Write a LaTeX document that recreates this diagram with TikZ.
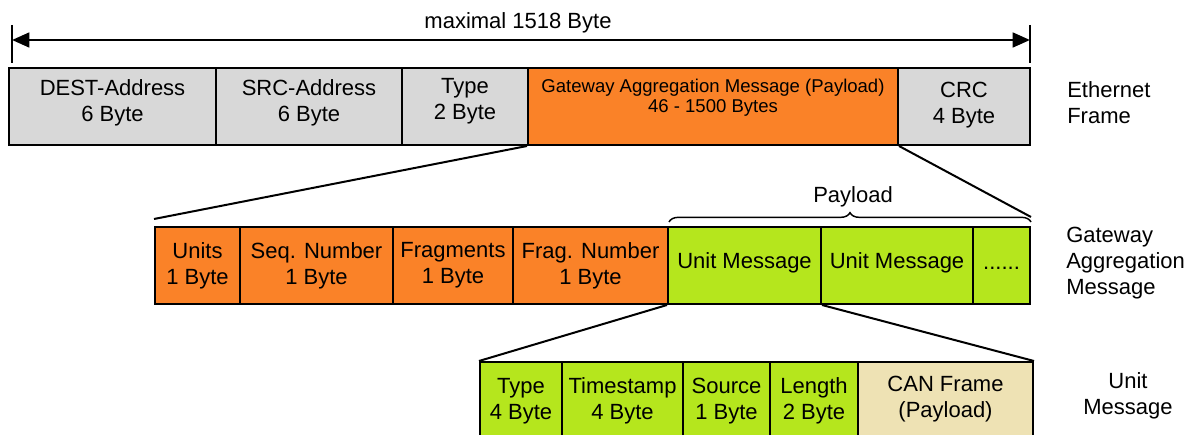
\documentclass[tikz,border=0pt]{standalone}
\usepackage{fontspec}
\setmainfont{Liberation Sans}
\usetikzlibrary{arrows.meta,calc,decorations.pathreplacing}
\definecolor{cgray}{RGB}{216,216,216}
\definecolor{corange}{RGB}{250,130,40}
\definecolor{cgreen}{RGB}{181,230,29}
\definecolor{cbeige}{RGB}{238,226,180}
% name, cx, cy, w, h, fill, dy, text
\newcommand\mycell[8]{%
  \node[cell,fill=#6,minimum width=#4*0.75pt,minimum height=#5*0.75pt] (#1) at (#2,#3) {};
  \node[txt] (#1t) at ($(#1.center)+(0,#7)$) {#8};}
\begin{document}
\begin{tikzpicture}[x=0.75pt,y=-0.75pt,
  cell/.style={draw,line width=1.5pt,inner sep=0pt},
  txt/.style={align=center,inner sep=0pt,font=\fontsize{16.5}{19.5}\selectfont},
  smalltxt/.style={align=center,inner sep=0pt,font=\fontsize{13.9}{15}\selectfont},
  conn/.style={line width=1.5pt},
  tick/.style={line width=1.5pt},
  dim/.style={line width=2pt,{Triangle[length=13pt,width=11pt]}-{Triangle[length=13pt,width=11pt]}},
  side/.style={inner sep=0pt,font=\fontsize{16.5}{19.5}\selectfont}]
\useasboundingbox (0,0) rectangle (1203,435);
\clip (0,0) rectangle (1203,435);

% Row 1: Ethernet frame
\mycell{dest}{112.5}{106.5}{207}{77}{cgray}{-3.5}{DEST-Address\\6 Byte}
\mycell{src}{309}{106.5}{186}{77}{cgray}{-3.5}{SRC-Address\\6 Byte}
\mycell{typ}{465}{106.5}{126}{77}{cgray}{-5.5}{Type\\2 Byte}
\node[cell,fill=corange,minimum width=370*0.75pt,minimum height=77*0.75pt] (gam) at (713,106.5) {};
\node[smalltxt] (gamt) at ($(gam.center)+(0,-8.5)$) {Gateway Aggregation Message (Payload)\\46 - 1500 Bytes};
\mycell{crc}{964}{106.5}{132}{77}{cgray}{-1}{CRC\\4 Byte}
\node[side,anchor=west,align=left] (lbleth) at (1067,102.5) {Ethernet\\Frame};

% dimension arrow
\coordinate (tla) at (12,25); \coordinate (tlb) at (12,63);
\coordinate (tra) at (1030,25); \coordinate (trb) at (1030,63);
\coordinate (al) at (12,40); \coordinate (ar) at (1030,40);
\draw[tick] (tla) -- (tlb);
\draw[tick] (tra) -- (trb);
\draw[dim] (al) -- (ar);
\node[side] (maxt) at (518,23) {maximal 1518 Byte};

% Row 2: Gateway aggregation message
\mycell{units}{197.5}{265.5}{85}{77}{corange}{0}{Units\\1 Byte}
\mycell{seq}{316.5}{265.5}{153}{77}{corange}{0}{Seq. Number\\1 Byte}
\mycell{frag}{453}{265.5}{120}{77}{corange}{0}{Fragments\\1 Byte}
\mycell{fnum}{590.5}{265.5}{155}{77}{corange}{0}{Frag. Number\\1 Byte}
\mycell{umone}{744.5}{265.5}{153}{77}{cgreen}{-3}{Unit Message}
\mycell{umtwo}{897}{265.5}{152}{77}{cgreen}{-3}{Unit Message}
\mycell{dots}{1001.5}{265.5}{57}{77}{cgreen}{3}{......}
\node[side,anchor=west,align=left] (lblgam) at (1066,263.5) {Gateway\\Aggregation\\Message};

% payload brace
\coordinate (brl) at ($(umone.north west)+(2,-4)$);
\coordinate (brr) at ($(dots.north east)+(0,-4)$);
\draw[line width=1.1pt,decorate,decoration={brace,amplitude=7pt}] (brl) -- (brr);
\node[side] (payl) at (853,197) {Payload};

% zoom lines row1 -> row2
\coordinate (uabove) at ($(units.north west)+(0,-7)$);
\coordinate (brtop) at ($(dots.north east)+(0,-9)$);
\draw[conn] (gam.south west) -- (uabove);
\draw[conn] (gam.south east) -- (brtop);

% Row 3: Unit message
\mycell{ut}{521}{401}{82}{78}{cgreen}{0}{Type\\4 Byte}
\mycell{uts}{622.5}{401}{121}{78}{cgreen}{0}{Timestamp\\4 Byte}
\mycell{usrc}{726.5}{401}{87}{78}{cgreen}{0}{Source\\1 Byte}
\mycell{ulen}{814}{401}{88}{78}{cgreen}{0}{Length\\2 Byte}
\mycell{ucan}{945.5}{401}{175}{78}{cbeige}{-2}{CAN Frame\\(Payload)}
\node[side,align=center] (lblum) at (1128,395.5) {Unit\\Message};

% zoom lines row2 -> row3
\draw[conn] (umone.south west) -- (ut.north west);
\draw[conn] (umone.south east) -- (ucan.north east);
\end{tikzpicture}
\end{document}
